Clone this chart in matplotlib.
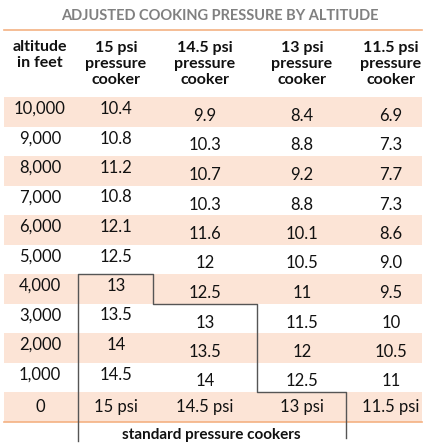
import matplotlib.pyplot as plt

altitudes = ["10,000", "9,000", "8,000", "7,000", "6,000", "5,000", "4,000", "3,000", "2,000", "1,000", "0"]
psi15 = ["10.4", "10.8", "11.2", "10.8", "12.1", "12.5", "13", "13.5", "14", "14.5", "15 psi"]
psi145 = ["9.9", "10.3", "10.7", "10.3", "11.6", "12", "12.5", "13", "13.5", "14", "14.5 psi"]
psi13 = ["8.4", "8.8", "9.2", "8.8", "10.1", "10.5", "11", "11.5", "12", "12.5", "13 psi"]
psi115 = ["6.9", "7.3", "7.7", "7.3", "8.6", "9.0", "9.5", "10", "10.5", "11", "11.5 psi"]
headers = ["altitude\nin feet", "15 psi\npressure\ncooker", "14.5 psi\npressure\ncooker",
           "13 psi\npressure\ncooker", "11.5 psi\npressure\ncooker"]
title = "ADJUSTED COOKING PRESSURE BY ALTITUDE"
footer = "standard pressure cookers"

W, H = 426, 445
fig = plt.figure(figsize=(W/100, H/100), dpi=100)
ax = fig.add_axes([0, 0, 1, 1])
ax.set_xlim(0, W); ax.set_ylim(H, 0); ax.axis("off")
fam = ["Lato", "DejaVu Sans"]
band = "#fce4d6"; orange = "#f4b183"; txt = "#111111"

ax.text(220, 16, title, ha="center", va="center", fontsize=10.5, fontweight="bold", color="#808080", family=fam)
ax.plot([4, 422], [30, 30], color=orange, lw=1.2)
xs = [40, 116, 205, 302, 391]
for x, h in zip(xs, headers):
    ax.text(x, 64 if h.count("\n") == 2 else 55, h, ha="center", va="center", fontsize=11.5,
            fontweight="bold", color=txt, family=fam, linespacing=1.15)

top, rh = 97, 29.5
cols = [altitudes, psi15, psi145, psi13, psi115]
n = len(altitudes)
for i in range(n):
    y0 = top + i*rh
    if i % 2 == 0:
        ax.add_patch(plt.Rectangle((4, y0), 418, rh, color=band, lw=0))
    for j, col in enumerate(cols):
        if i == n-1:
            yy = y0 + rh/2
        elif j < 2:
            yy = y0 + 12
        else:
            yy = y0 + 19
        ax.text(xs[j], yy, col[i], ha="center", va="center", fontsize=12, color=txt, family=fam)
ax.plot([4, 422], [top + n*rh, top + n*rh], color=orange, lw=1.2)

r4 = top + 6*rh; r3 = top + 7*rh; r0 = top + 10*rh
ax.plot([78, 78, 153, 153, 257, 257, 346, 346],
        [441, r4, r4, r3, r3, r0, r0, 438], color="#555555", lw=1)
ax.text(211, 435, footer, ha="center", va="center", fontsize=11, fontweight="bold", color=txt, family=fam)
fig.savefig("out.png", dpi=100)
